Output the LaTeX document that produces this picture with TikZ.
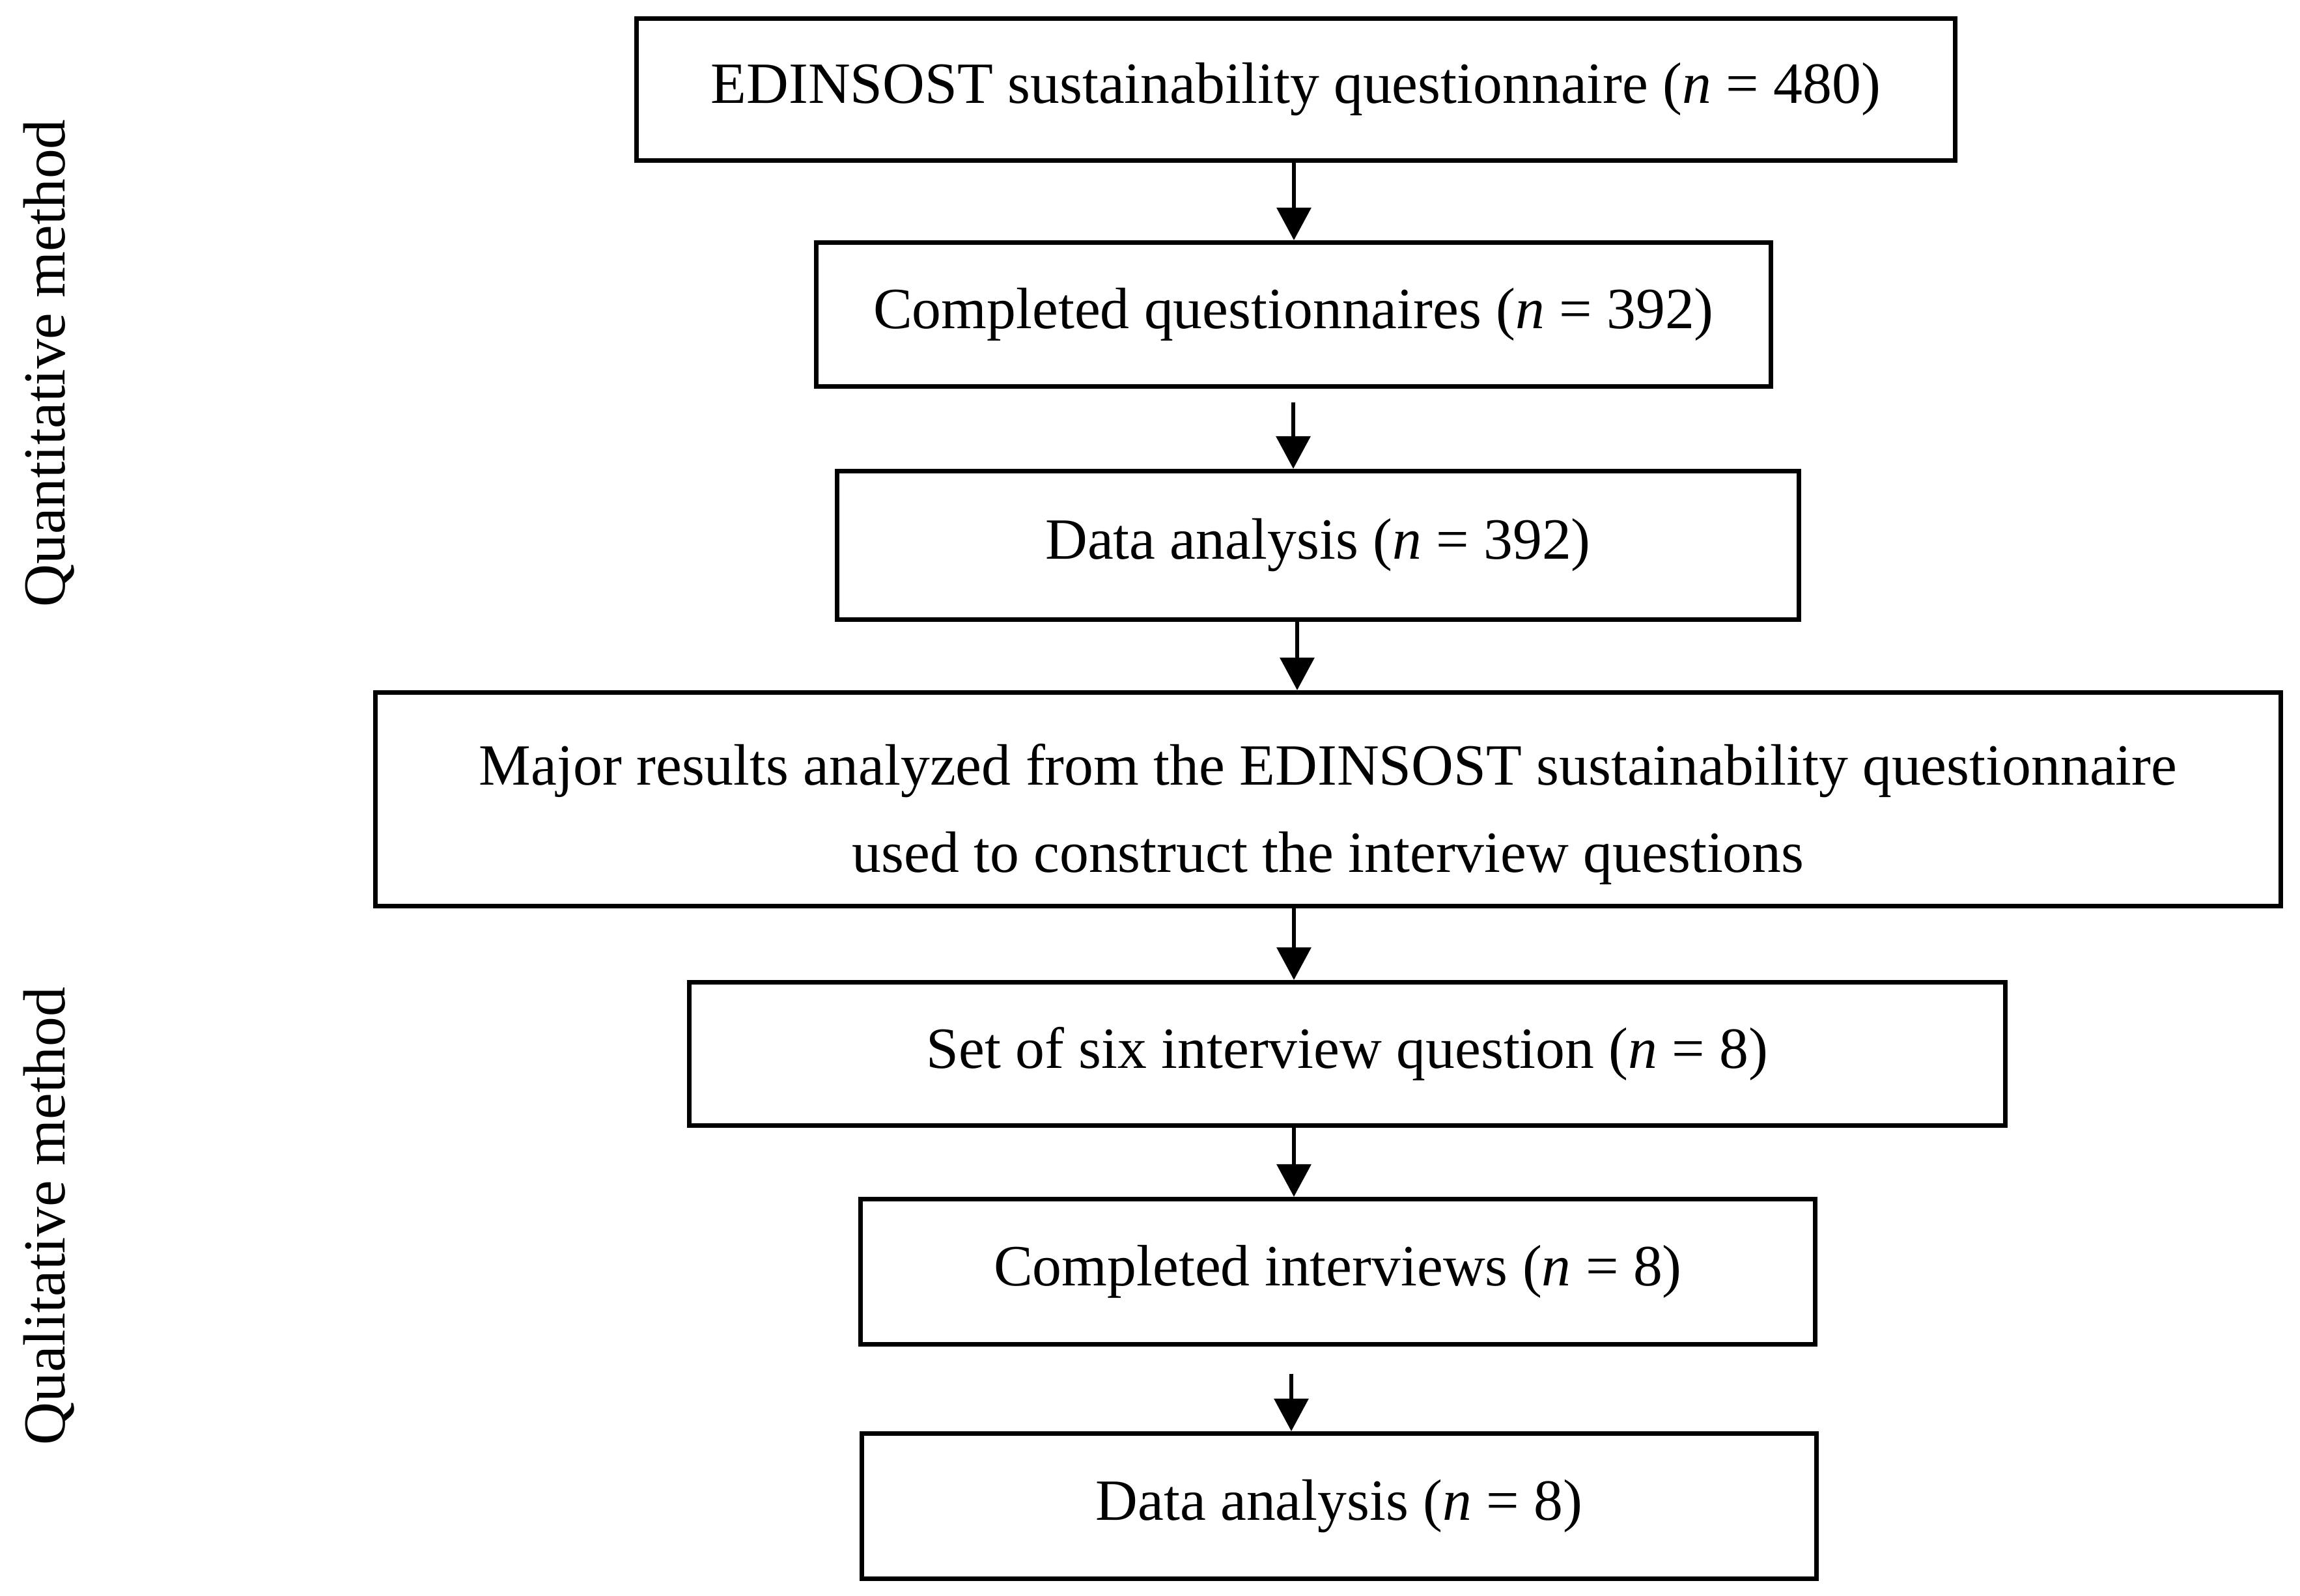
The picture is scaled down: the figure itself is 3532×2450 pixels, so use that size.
\documentclass[tikz,border=0pt]{standalone}
\usepackage{fontspec}
\setmainfont{Liberation Serif}
\usetikzlibrary{arrows.meta}
\tikzset{
  box/.style={draw=black, line width=2pt, fill=white, inner sep=0pt, align=center,
    font=\fontsize{25.5}{38}\selectfont},
  arr/.style={line width=1.8pt, -{Triangle[width=0.52cm,length=0.5cm]}},
  sidelabel/.style={rotate=90, anchor=base, inner sep=0pt, font=\fontsize{26}{38}\selectfont}
}
\begin{document}
\begin{tikzpicture}[x=0.01cm,y=-0.01cm]
\useasboundingbox[fill=white] (0,0) rectangle (3532,2450);

\node[box, minimum width=20.23cm, minimum height=2.18cm] (b1) at (1990,137.5)
  {EDINSOST sustainability questionnaire (\textit{n} = 480)};
\node[box, minimum width=14.66cm, minimum height=2.21cm] (b2) at (1986.5,483)
  {Completed questionnaires (\textit{n} = 392)};
\node[box, minimum width=14.77cm, minimum height=2.28cm] (b3) at (2024,837.5)
  {Data analysis (\textit{n} = 392)};
\node[box, minimum width=29.24cm, minimum height=3.28cm] (b4) at (2039.5,1227.5)
  {\raisebox{-0.18cm}[\height][\depth]{\begin{tabular}{@{}c@{}}Major results analyzed from the EDINSOST sustainability questionnaire\\used to construct the interview questions\end{tabular}}};
\node[box, minimum width=20.19cm, minimum height=2.20cm] (b5) at (2069,1618.5)
  {Set of six interview question (\textit{n} = 8)};
\node[box, minimum width=14.66cm, minimum height=2.23cm] (b6) at (2054.5,1953)
  {Completed interviews (\textit{n} = 8)};
\node[box, minimum width=14.66cm, minimum height=2.23cm] (b7) at (2056.5,2313)
  {Data analysis (\textit{n} = 8)};

\node[sidelabel] (quant) at (100,558) {Quantitative method};
\node[sidelabel] (qual) at (100,1868) {Qualitative method};

\coordinate (x1) at (1987,0);
\coordinate (x2) at (1986,0);
\coordinate (x3) at (1992,0);
\coordinate (x4) at (1987,0);
\coordinate (x5) at (1987,0);
\coordinate (x6) at (1983,0);

\draw[arr] (b1.south -| x1) -- (b2.north -| x1);
\draw[arr, shorten <=6pt] (b2.south -| x2) -- (b3.north -| x2);
\draw[arr] (b3.south -| x3) -- (b4.north -| x3);
\draw[arr] (b4.south -| x4) -- (b5.north -| x4);
\draw[arr] (b5.south -| x5) -- (b6.north -| x5);
\draw[arr, shorten <=12pt] (b6.south -| x6) -- (b7.north -| x6);
\end{tikzpicture}
\end{document}
